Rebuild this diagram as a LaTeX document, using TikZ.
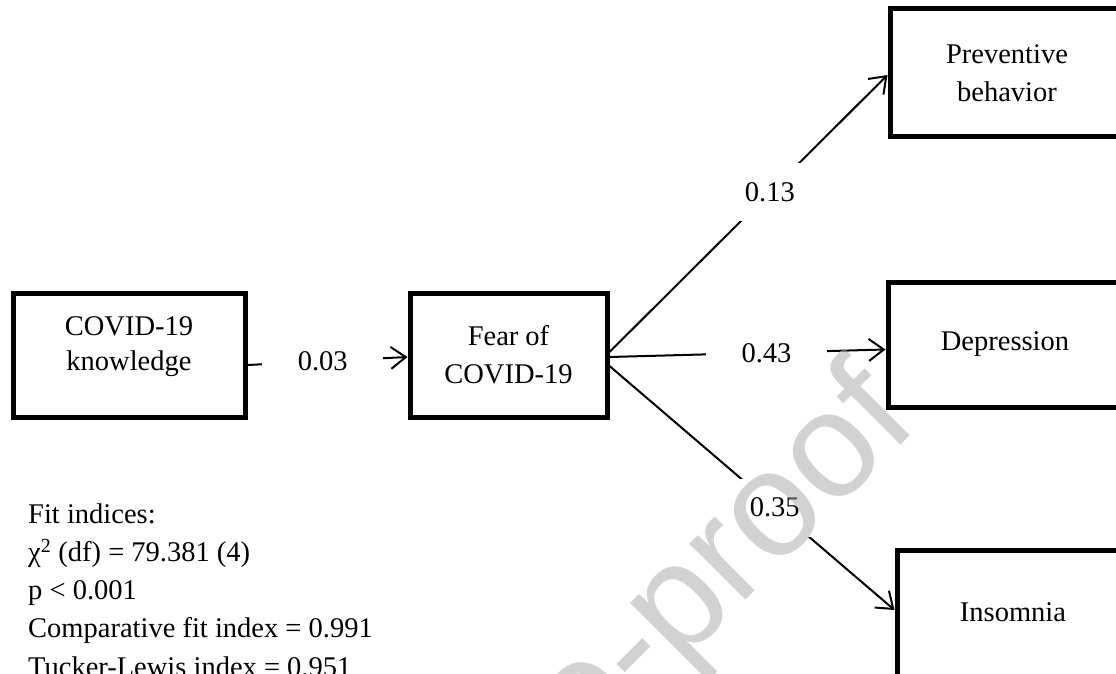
\documentclass[tikz,border=0pt]{standalone}
\usepackage{fontspec}
\setmainfont{Liberation Serif}
\newfontfamily\wmfont{Liberation Sans}
\usetikzlibrary{arrows.meta}
\begin{document}
\begin{tikzpicture}[x=1pt,y=-1pt,
  box/.style={draw, line width=5pt, rectangle, inner sep=0pt, align=center,
    font=\fontsize{28.5}{38}\selectfont},
  txt/.style={align=center, inner sep=0pt, font=\fontsize{28.5}{38}\selectfont},
  conn/.style={line width=2pt, -{Straight Barb[length=15pt,width=22pt,line width=2pt]}},
  lbl/.style={fill=white, minimum width=121pt, minimum height=58pt, inner sep=0pt,
    font=\fontsize{28.5}{38}\selectfont},
  fittxt/.style={anchor=base west, inner sep=0pt, font=\fontsize{28.5}{38}\selectfont},
  wm/.style={inner sep=0pt, font=\wmfont\fontsize{150}{150}\selectfont,
    text=black!35, text opacity=0.5},
]
\useasboundingbox (0,0) rectangle (1116,674);
\clip (0,0) rectangle (1116,674);

% boxes
\node[box, minimum width=232pt, minimum height=124pt] (K) at (129,355) {};
\node[txt, font=\fontsize{28.5}{35}\selectfont] (Kt) at (129,347) {COVID-19\\knowledge};
\node[box, minimum width=197pt, minimum height=124pt] (F) at (508.5,355) {Fear of\\COVID-19};
\node[box, minimum width=234pt, minimum height=128pt] (P) at (1007,73) {Preventive\\behavior};
\node[box, minimum width=234pt, minimum height=125pt] (D) at (1005,344.5) {Depression};
\node[box, minimum width=232pt, minimum height=140pt] (I) at (1013,620) {};
\node[txt] (It) at (1013,612) {Insomnia};

% connectors
\draw[conn] ([yshift=-10pt]K.east) -- ([yshift=-2pt]F.west)
  node[lbl, pos=.47] (l03) {0.03};
\draw[conn] ([yshift=3pt]F.east) -- ([yshift=-2pt]P.west)
  node[lbl, pos=.577] (l13) {0.13};
\draw[conn] ([yshift=-2pt]F.east) -- ([yshift=-5pt]D.west)
  node[lbl, pos=.569] (l43) {0.43};
\draw[conn] ([yshift=-11pt]F.east) -- ([yshift=10pt]I.west)
  node[lbl, pos=.58] (l35) {0.35};

% fit indices
\node[fittxt] (f1) at (28,523) {Fit indices:};
\node[fittxt] (f2) at (28,561.3) {χ\textsuperscript{2} (df) = 79.381 (4)};
\node[fittxt] (f3) at (28,599.6) {p < 0.001};
\node[fittxt] (f4) at (28,637.9) {Comparative fit index = 0.991};
\node[fittxt] (f5) at (28,676.2) {Tucker-Lewis index = 0.951};

% watermark
\node[wm, rotate=45, anchor=base west] (wmk) at (585,761) {e-proof};
\end{tikzpicture}
\end{document}
